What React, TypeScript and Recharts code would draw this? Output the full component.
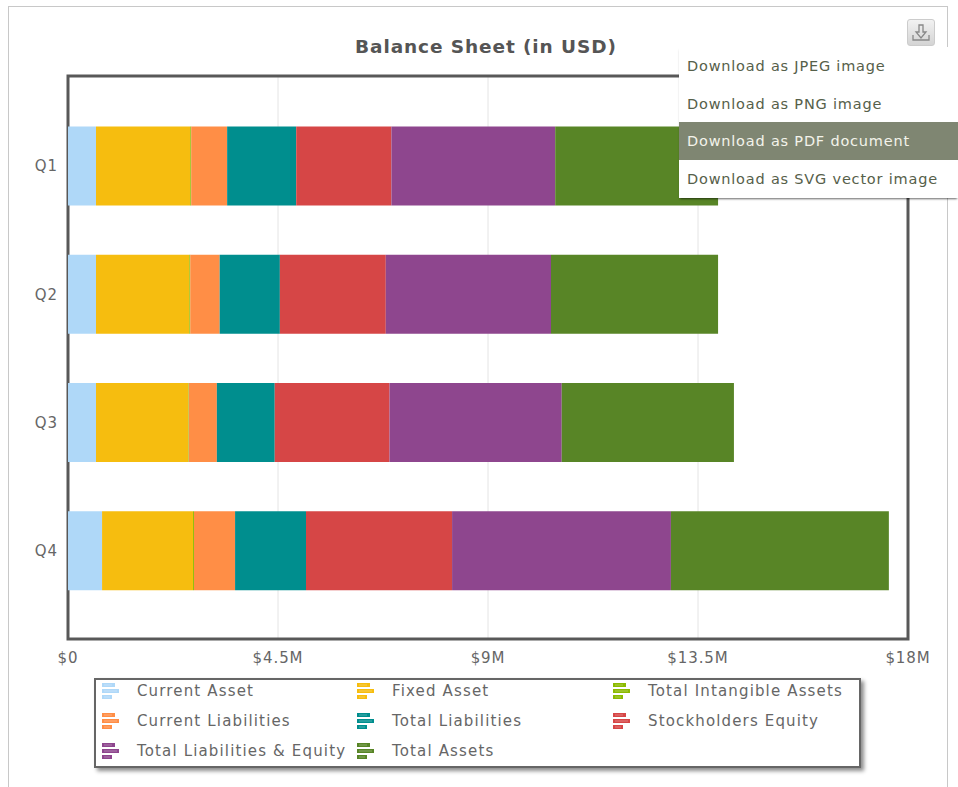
import { BarChart, Bar, XAxis, YAxis, CartesianGrid, Legend, usePlotArea } from "recharts";

const FONT = "'DejaVu Sans', Verdana, sans-serif";
const TEXT = "#666666";

const quarters = ["Q1", "Q2", "Q3", "Q4"];
const currentAsset = [600000, 600000, 600000, 730000];
const fixedAsset = [2020000, 2000000, 1980000, 1950000];
const totalIntangible = [20000, 20000, 10000, 20000];
const currentLiabilities = [770000, 630000, 600000, 880000];
const totalLiabilities = [1480000, 1290000, 1240000, 1520000];
const stockholdersEquity = [2040000, 2270000, 2460000, 3130000];
const liabilitiesEquity = [3510000, 3540000, 3690000, 4690000];
const totalAssets = [3490000, 3580000, 3690000, 4670000];
const xTicks = [0, 4500000, 9000000, 13500000, 18000000];
const menuItems = ["Download as JPEG image", "Download as PNG image", "Download as PDF document", "Download as SVG vector image"];

const series = [
  { key: "Current Asset", values: currentAsset, color: "#afd8f8" },
  { key: "Fixed Asset", values: fixedAsset, color: "#f6bd0f" },
  { key: "Total Intangible Assets", values: totalIntangible, color: "#8bba00" },
  { key: "Current Liabilities", values: currentLiabilities, color: "#ff8e46" },
  { key: "Total Liabilities", values: totalLiabilities, color: "#008e8e" },
  { key: "Stockholders Equity", values: stockholdersEquity, color: "#d64646" },
  { key: "Total Liabilities & Equity", values: liabilitiesEquity, color: "#8e468e" },
  { key: "Total Assets", values: totalAssets, color: "#588526" },
];

const data = quarters.map((q, i) => {
  const row: Record<string, string | number> = { quarter: q };
  series.forEach((s) => { row[s.key] = s.values[i]; });
  return row;
});

const money = (v: number) => (v === 0 ? "$0" : `$${v / 1000000}M`);

const axisTick = { fill: TEXT, fontSize: 15, fontFamily: FONT, letterSpacing: 0.9 };

// frame around the whole plot, the y axis padding makes a ReferenceArea too short
function PlotFrame() {
  const plot = usePlotArea();
  if (!plot) return null;
  return <rect x={plot.x} y={plot.y} width={plot.width} height={plot.height} fill="none" stroke="#585858" strokeWidth={3} />;
}

function LegendIcon({ color }: { color: string }) {
  return (
    <svg width={18} height={18} style={{ display: "block" }}>
      <rect x={0} y={1} width={13} height={4} fill={color} />
      <rect x={0} y={7} width={17} height={4} fill={color} />
      <rect x={0} y={13} width={10} height={4} fill={color} />
      <rect x={2} y={2.5} width={8} height={1} fill="#fff" opacity={0.3} />
      <rect x={2} y={8.5} width={13} height={1} fill="#fff" opacity={0.3} />
      <rect x={2} y={14.5} width={6} height={1} fill="#fff" opacity={0.3} />
    </svg>
  );
}

function ChartLegend({ payload }: { payload?: { value: string; color: string }[] }) {
  const colLeft = [6, 261, 517];
  return (
    <div style={{ position: "relative", left: -1, width: 763, height: 86, border: "2px solid #666", background: "#fff", boxShadow: "3px 3px 4px rgba(0,0,0,0.45)" }}>
      {(payload ?? []).map((p, i) => (
        <div key={p.value} style={{ position: "absolute", left: colLeft[i % 3], top: 2 + Math.floor(i / 3) * 30, height: 18, width: 250, display: "flex", alignItems: "center", whiteSpace: "nowrap" }}>
          <LegendIcon color={p.color} />
          <span style={{ marginLeft: 17, fontFamily: FONT, fontSize: 15, letterSpacing: 1.15, color: TEXT }}>{p.value}</span>
        </div>
      ))}
    </div>
  );
}

function ExportMenu() {
  return (
    <>
      <div style={{ position: "absolute", left: 907, top: 19, width: 28, height: 27, borderRadius: 3, background: "linear-gradient(#f2f2f2, #d4d4d4)", border: "1px solid #ccc", boxSizing: "border-box" }}>
        <svg width={26} height={25} fill="none" stroke="#888" strokeWidth={1.3}>
          <path d="M11 5 H15 V12 H18 L13 18 L8 12 H11 Z" />
          <path d="M5 15 V20 H21 V15" />
        </svg>
      </div>
      <div style={{ position: "absolute", left: 679, top: 47, width: 279, height: 151, background: "#fff", boxShadow: "0 2px 2px -1px rgba(0,0,0,0.6)" }}>
        {menuItems.map((label, i) => (
          <div key={label} style={{ height: 37.7, lineHeight: "39px", paddingLeft: 8, fontFamily: FONT, fontSize: 14.5, letterSpacing: 0.8, whiteSpace: "nowrap", color: i === 2 ? "#f3f3ea" : "#56604a", background: i === 2 ? "#7f8672" : "#fff" }}>
            {label}
          </div>
        ))}
      </div>
    </>
  );
}

export default function App() {
  return (
    <div style={{ position: "absolute", left: 0, top: 0, width: 958, height: 787, overflow: "hidden", background: "#fff" }}>
      <div style={{ position: "absolute", left: 8, top: 6, width: 940, height: 800, border: "1px solid #c8c8c8", boxSizing: "border-box" }} />
      <div style={{ position: "absolute", left: 355, top: 36, fontFamily: FONT, fontWeight: 700, fontSize: 18.5, letterSpacing: 0.9, color: "#555", whiteSpace: "nowrap" }}>
        Balance Sheet (in USD)
      </div>
      <div style={{ position: "absolute", left: 0, top: 0 }}>
        <BarChart width={958} height={787} data={data} layout="vertical" barCategoryGap="19.2%" margin={{ top: 76, right: 50, bottom: 28, left: 0 }}>
          <CartesianGrid horizontal={false} stroke="#e4e4e4" />
          <XAxis type="number" domain={[0, 18000000]} ticks={xTicks} tickFormatter={money} tick={axisTick} tickLine={false} axisLine={false} height={30} tickMargin={7} interval={0} />
          <YAxis type="category" dataKey="quarter" width={68} padding={{ top: 26, bottom: 24 }} tick={axisTick} tickLine={false} axisLine={false} tickMargin={4} />
          {series.map((s) => (
            <Bar key={s.key} dataKey={s.key} stackId="a" fill={s.color} isAnimationActive={false} />
          ))}
          <PlotFrame />
          <Legend itemSorter={null} content={(props: any) => <ChartLegend payload={props.payload} />} wrapperStyle={{ position: "absolute", left: 95, top: 678, width: 767, height: 90 }} />
        </BarChart>
      </div>
      <ExportMenu />
    </div>
  );
}
